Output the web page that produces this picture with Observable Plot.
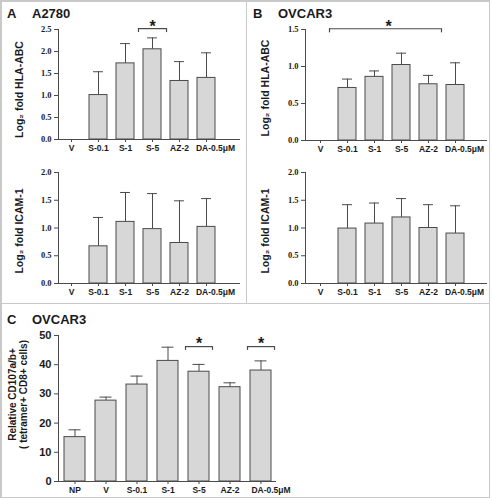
<!DOCTYPE html>
<html><head><meta charset="utf-8">
<script src="https://cdn.jsdelivr.net/npm/d3@7"></script>
<script src="https://cdn.jsdelivr.net/npm/@observablehq/plot@0.6"></script>
<style>
body{margin:0;background:#fff;}
#root{position:relative;width:492px;height:500px;font-family:"Liberation Sans",Arial,sans-serif;overflow:hidden;}
.cell{position:absolute;}
.line{position:absolute;background:#c9c9c9;z-index:5;}
.title{position:absolute;font-weight:bold;font-size:13px;line-height:13px;color:#1a1a1a;white-space:nowrap;}
</style></head><body><div id="root"></div>
<script>
// ---- data ----
const catsAB = ["V", "S-0.1", "S-1", "S-5", "AZ-2", "DA-0.5μM"];
const catsC = ["NP", "V", "S-0.1", "S-1", "S-5", "AZ-2", "DA-0.5μM"];

const hlaA2780 = [null, 1.01, 1.73, 2.05, 1.33, 1.40];
const hlaA2780Err = [null, 1.54, 2.18, 2.31, 1.77, 1.97];
const icamA2780 = [null, 0.67, 1.11, 0.98, 0.73, 1.02];
const icamA2780Err = [null, 1.19, 1.64, 1.62, 1.49, 1.53];

const hlaOVCAR3 = [null, 0.71, 0.86, 1.02, 0.76, 0.75];
const hlaOVCAR3Err = [null, 0.83, 0.94, 1.18, 0.88, 1.05];
const icamOVCAR3 = [null, 0.99, 1.08, 1.19, 1.00, 0.90];
const icamOVCAR3Err = [null, 1.42, 1.45, 1.53, 1.42, 1.40];

const cd107 = [15.2, 27.7, 33.2, 41.3, 37.6, 32.3, 38.0];
const cd107Err = [17.7, 28.9, 36.1, 46.0, 40.1, 33.8, 41.3];

const ticksHLA_A = [0, 0.5, 1.0, 1.5, 2.0, 2.5];
const ticksHLA_B = [0, 0.5, 1.0, 1.5];
const ticksICAM = [0, 0.5, 1.0, 1.5, 2.0];
const ticksC = [0, 10, 20, 30, 40, 50];

// significance brackets: from/to category, bar level, end level, star level
const sigA = [{from: "S-5", to: "S-5", y: 2.52, yEnd: 2.43, ys: 2.56, star: "S-5"}];
const sigB = [{from: "V", to: "AZ-2", y: 1.51, yEnd: 1.455, ys: 1.535, star: "S-1"}];
const sigC = [
  {from: "S-5", to: "S-5", y: 46.2, yEnd: 44.9, ys: 47.3, star: "S-5"},
  {from: "DA-0.5μM", to: "DA-0.5μM", y: 46.2, yEnd: 44.9, ys: 47.3, star: "DA-0.5μM"}
];

// ---- drawing ----
const ink = "#4a4a4a";
const txt = "#1a1a1a";
const barFill = "#d7d7d7";
const root = document.getElementById("root");

function panel(o) {
  const data = o.cats.map((c, i) => ({c, v: o.vals[i], e: o.errs[i]})).filter(d => d.v != null);
  const n = o.cats.length;
  const last = o.cats[n - 1];
  const step = (o.range[1] - o.range[0]) / (n - o.pi + 2 * o.po);
  const bw = step * (1 - o.pi);
  const capIn = (bw - o.cap) / 2;
  const marks = [
    Plot.ruleX(data, {x: "c", y1: "v", y2: "e", stroke: ink, strokeWidth: 1}),
    Plot.tickY(data, {x: "c", y: "e", insetLeft: capIn, insetRight: capIn, stroke: ink, strokeWidth: 1}),
    Plot.barY(data, {x: "c", y: "v", fill: barFill, stroke: ink, strokeWidth: 1}),
    Plot.ruleY([0], {stroke: ink}),
    Plot.frame({anchor: "left", stroke: ink}),
    Plot.axisX({tickSize: 3, tickPadding: 2, fontSize: o.xFont, fontWeight: "bold", label: null, stroke: ink, fill: txt,
      tickFormat: (d) => d === last ? "" : d}),
    Plot.axisX({ticks: [last], tickSize: 0, tickPadding: 5, dx: o.lastDx, fontSize: o.xFont, fontWeight: "bold",
      label: null, fill: txt}),
    Plot.axisY({ticks: o.ticks, tickFormat: o.fmt, tickSize: 4, tickPadding: 3, fontSize: o.yFont,
      fontWeight: "bold", fontFamily: o.yFamily, label: null, stroke: ink, fill: txt}),
    Plot.text([o.ylabel], {frameAnchor: "left", textAnchor: "middle", lineAnchor: "middle", rotate: -90,
      dx: o.ldx, dy: o.ldy, fontSize: o.lFont, fontWeight: "bold", lineHeight: 1.12, fill: txt})
  ];
  for (const b of (o.sig || [])) {
    const ext = o.ext;
    const il = b.from === b.to ? -ext : (o.leftIn ?? -ext);
    marks.push(
      Plot.ruleY([b], {y: "y", x1: "from", x2: "to", insetLeft: il, insetRight: -ext, stroke: ink, strokeWidth: 1.2}),
      Plot.ruleX([b], {x: "from", y1: "y", y2: "yEnd", dx: -bw / 2 + il, stroke: ink, strokeWidth: 1.2}),
      Plot.ruleX([b], {x: "to", y1: "y", y2: "yEnd", dx: bw / 2 + ext, stroke: ink, strokeWidth: 1.2}),
      Plot.text([b], {x: "star", y: "ys", text: () => "*", dx: o.starDx || 0, fontSize: 16, fontWeight: "bold", fill: txt})
    );
  }
  const chart = Plot.plot({
    width: o.w, height: o.h,
    marginLeft: o.ml, marginRight: o.mr, marginTop: o.mt, marginBottom: o.mb,
    x: {type: "band", domain: o.cats, range: o.range, paddingInner: o.pi, paddingOuter: o.po, axis: null},
    y: {domain: o.domain, axis: null},
    style: {fontFamily: '"Liberation Sans", Arial, sans-serif', background: "transparent", overflow: "visible"},
    marks
  });
  const d = document.createElement("div");
  d.className = "cell";
  d.style.left = o.left + "px";
  d.style.top = o.top + "px";
  d.appendChild(chart);
  root.appendChild(d);
}

const common = {xFont: 8.5, yFont: 8.5, yFamily: '"Liberation Serif", serif', lFont: 10.5, fmt: d3.format(".1f"), lastDx: 9};

// A top
panel({...common, left: 0, top: 0, w: 246, h: 155, ml: 58, mr: 6, mt: 29, mb: 16,
  range: [58, 219], pi: 0.35, po: 0.07, cap: 10, cats: catsAB, vals: hlaA2780, errs: hlaA2780Err,
  domain: [0, 2.5], ticks: ticksHLA_A, ylabel: "Log₂ fold HLA-ABC", ldx: -39, ldy: 5,
  sig: sigA, ext: 5});
// A bottom
panel({...common, left: 0, top: 155, w: 246, h: 148, ml: 58, mr: 6, mt: 17, mb: 20,
  range: [58, 219], pi: 0.35, po: 0.07, cap: 10, cats: catsAB, vals: icamA2780, errs: icamA2780Err,
  domain: [0, 2.0], ticks: ticksICAM, ylabel: "Log₂ fold ICAM-1", ldx: -39, ldy: 3});
// B top
panel({...common, left: 246, top: 0, w: 244, h: 155, ml: 59, mr: 3, mt: 29, mb: 15,
  range: [61, 222], pi: 0.343, po: 0.11, cap: 10, cats: catsAB, vals: hlaOVCAR3, errs: hlaOVCAR3Err,
  domain: [0, 1.5], ticks: ticksHLA_B, ylabel: "Log₂ fold HLA-ABC", ldx: -40, ldy: 3,
  sig: sigB, ext: 4, leftIn: 18, starDx: 14});
// B bottom
panel({...common, left: 246, top: 155, w: 244, h: 148, ml: 59, mr: 3, mt: 17, mb: 20,
  range: [61, 222], pi: 0.343, po: 0.11, cap: 10, cats: catsAB, vals: icamOVCAR3, errs: icamOVCAR3Err,
  domain: [0, 2.0], ticks: ticksICAM, ylabel: "Log₂ fold ICAM-1", ldx: -40, ldy: 3});
// C
panel({...common, yFont: 11, yFamily: '"Liberation Sans", Arial, sans-serif', fmt: d3.format("d"), lFont: 10,
  left: 0, top: 303, w: 290, h: 194, ml: 58, mr: 14, mt: 32, mb: 16, lastDx: 10,
  range: [58, 276], pi: 0.33, po: 0.144, cap: 12, cats: catsC, vals: cd107, errs: cd107Err,
  domain: [0, 50], ticks: ticksC, ylabel: "Relative CD107a/b+\n( tetramer+ CD8+ cells)", ldx: -40.5, ldy: -14,
  sig: sigC, ext: 3});

// titles
const titles = [["A", 7, 7], ["A2780", 32, 7], ["B", 253, 7], ["OVCAR3", 278, 7], ["C", 7, 313], ["OVCAR3", 32, 313]];
for (const [t, x, y] of titles) {
  const s = document.createElement("div");
  s.className = "title"; s.textContent = t; s.style.left = x + "px"; s.style.top = y + "px";
  root.appendChild(s);
}
// panel borders
const lines = [[0, 0, 490, 1.5], [0, 0, 1.5, 498], [488.5, 0, 1.5, 498], [0, 496.5, 490, 1.5], [245.5, 0, 1.5, 303], [0, 302.5, 490, 1.5]];
for (const [x, y, w, h] of lines) {
  const l = document.createElement("div");
  l.className = "line"; Object.assign(l.style, {left: x + "px", top: y + "px", width: w + "px", height: h + "px"});
  root.appendChild(l);
}
</script></body></html>
